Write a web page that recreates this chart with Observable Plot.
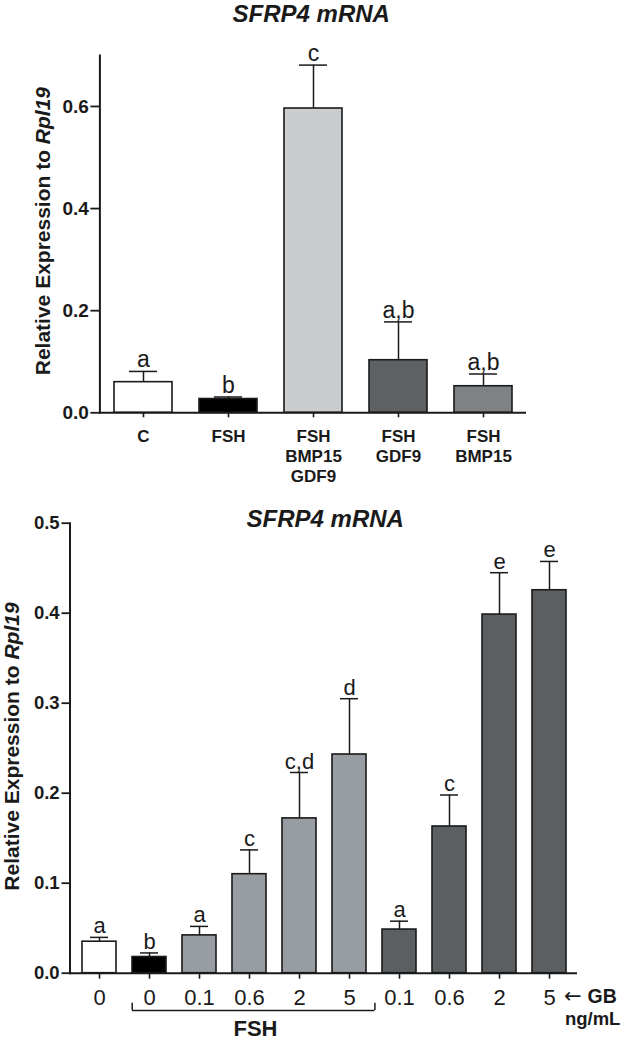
<!DOCTYPE html>
<html><head><meta charset="utf-8">
<script src="https://cdn.jsdelivr.net/npm/d3@7"></script>
<script src="https://cdn.jsdelivr.net/npm/@observablehq/plot@0.6"></script>
<style>
html,body{margin:0;padding:0;background:#fff;}
#wrap{width:633px;height:1039px;position:relative;overflow:hidden;background:#fff;}
#wrap svg{display:block;}
</style></head><body><div id="wrap"></div>
<script>
// ---------- Top panel data ----------
const topCategories = ["C", "FSH", "FSH\nBMP15\nGDF9", "FSH\nGDF9", "FSH\nBMP15"];
const topMeans = [0.060, 0.027, 0.596, 0.103, 0.052];
const topSEM = [0.021, 0.004, 0.085, 0.075, 0.024];
const topLetters = ["a", "b", "c", "a,b", "a,b"];
const topColours = ["#ffffff", "#000000", "#c9cdd0", "#5d6164", "#7e8285"];
const topTicks = [0, 0.2, 0.4, 0.6];

// ---------- Bottom panel data ----------
const gbDoses = ["0", "0", "0.1", "0.6", "2", "5", "0.1", "0.6", "2", "5"];
const bottomGroups = ["Control", "FSH", "FSH + GB", "FSH + GB", "FSH + GB", "FSH + GB", "GB", "GB", "GB", "GB"];
const bottomMeans = [0.035, 0.018, 0.042, 0.110, 0.172, 0.243, 0.0485, 0.163, 0.3985, 0.4255];
const bottomSEM = [0.0048, 0.0045, 0.010, 0.027, 0.051, 0.062, 0.0093, 0.035, 0.0465, 0.032];
const bottomLetters = ["a", "b", "a", "c", "c,d", "d", "a", "c", "e", "e"];
const groupNames = ["Control", "FSH", "FSH + GB", "GB"];
const groupColours = ["#ffffff", "#000000", "#989da3", "#5b5f62"];
const bottomTicks = [0, 0.1, 0.2, 0.3, 0.4, 0.5];

const titleText = "SFRP4 mRNA";
const yLabelText = "Relative Expression to Rpl19";

const FONT = '"Liberation Sans", Arial, Helvetica, sans-serif';
const INK = "#1a1a1a";

const topData = topCategories.map((label, i) => ({
  label, mean: topMeans[i], upper: topMeans[i] + topSEM[i], letter: topLetters[i]
}));
const bottomIds = bottomGroups.map((g, i) => g + " " + gbDoses[i]);
const doseById = new Map(bottomIds.map((id, i) => [id, gbDoses[i]]));
const bottomData = bottomIds.map((id, i) => ({
  id, group: bottomGroups[i], mean: bottomMeans[i], upper: bottomMeans[i] + bottomSEM[i], letter: bottomLetters[i]
}));
const fshIds = bottomIds.filter((id, i) => bottomGroups[i] === "FSH" || bottomGroups[i] === "FSH + GB");
const bracket = [{from: fshIds[0], to: fshIds[fshIds.length - 1], mid: fshIds[Math.floor(fshIds.length / 2)], label: "FSH"}];
const lastId = bottomIds[bottomIds.length - 1];
const arrowNote = [{id: lastId, text: "\u2190"}];
const unitNote = [{id: lastId, text: "GB"}];
const unitNote2 = [{id: lastId, text: "ng/mL"}];

const topPlot = Plot.plot({
  width: 633, height: 490,
  marginLeft: 99.4, marginRight: 107, marginTop: 54.9, marginBottom: 77.7,
  style: {fontFamily: FONT, background: "#fff", overflow: "visible", color: INK},
  x: {domain: topCategories, paddingInner: 0.32, paddingOuter: 0.16, axis: null},
  y: {domain: [0, 0.7], axis: null},
  color: {domain: topCategories, range: topColours},
  marks: [
    Plot.barY(topData, {x: "label", y: "mean", fill: "label", stroke: INK, strokeWidth: 1.6}),
    Plot.ruleX(topData, {x: "label", y1: "mean", y2: "upper", stroke: INK, strokeWidth: 1.5}),
    Plot.tickY(topData, {x: "label", y: "upper", stroke: INK, strokeWidth: 1.5, insetLeft: 15, insetRight: 15}),
    Plot.text(topData, {x: "label", y: "upper", text: "letter", lineAnchor: "bottom", dy: -4, fontSize: 23, fill: INK}),
    Plot.axisY({ticks: topTicks, tickFormat: d3.format(".1f"), tickSize: 9, tickPadding: 2, fontSize: 19, fontWeight: "bold", label: null, color: INK, strokeWidth: 1.8}),
    Plot.axisX({tickSize: 5, tickPadding: 9.4, fontSize: 17, fontWeight: "bold", lineHeight: 1.2, label: null, color: INK, strokeWidth: 1.6}),
    Plot.ruleY([0], {stroke: INK, strokeWidth: 2}),
    Plot.frame({anchor: "left", stroke: INK, strokeWidth: 2}),
    Plot.text([yLabelText], {text: d => d, frameAnchor: "left", textAnchor: "middle", rotate: -90, dx: -56.8, dy: -3, lineAnchor: "middle", fontSize: 21, fontWeight: "bold", fill: INK}),
    Plot.text([titleText], {text: d => d, frameAnchor: "top", textAnchor: "middle", lineAnchor: "bottom", dy: -33.2, dx: -2, fontSize: 24, fontWeight: "bold", fontStyle: "italic", fill: INK})
  ]
});

const bottomPlot = Plot.plot({
  width: 633, height: 549,
  marginLeft: 69.5, marginRight: 56, marginTop: 32.7, marginBottom: 66.3,
  style: {fontFamily: FONT, background: "#fff", overflow: "visible", color: INK},
  x: {domain: bottomIds, paddingInner: 0.33, paddingOuter: 0.165, axis: null},
  y: {domain: [0, 0.5], axis: null},
  color: {domain: groupNames, range: groupColours},
  marks: [
    Plot.barY(bottomData, {x: "id", y: "mean", fill: "group", stroke: INK, strokeWidth: 1.6}),
    Plot.ruleX(bottomData, {x: "id", y1: "mean", y2: "upper", stroke: INK, strokeWidth: 1.5}),
    Plot.tickY(bottomData, {x: "id", y: "upper", stroke: INK, strokeWidth: 1.5, insetLeft: 8, insetRight: 8}),
    Plot.text(bottomData, {x: "id", y: "upper", text: "letter", lineAnchor: "bottom", dy: -4, fontSize: 22, fill: INK}),
    Plot.axisY({ticks: bottomTicks, tickFormat: d3.format(".1f"), tickSize: 8, tickPadding: 2.4, fontSize: 18.5, fontWeight: "bold", label: null, color: INK, strokeWidth: 1.8}),
    Plot.axisX({tickSize: 6, tickPadding: 10.6, fontSize: 22, tickFormat: id => doseById.get(id), label: null, color: INK, strokeWidth: 1.6}),
    Plot.ruleY([0], {stroke: INK, strokeWidth: 2}),
    Plot.frame({anchor: "left", stroke: INK, strokeWidth: 2}),
    // FSH bracket
    Plot.ruleY(bracket, {x1: "from", x2: "to", y: 0, dy: 37.3, insetRight: -8.5, stroke: INK, strokeWidth: 1.5}),
    Plot.ruleX(bracket, {x: "from", y1: 0, y2: 0, insetTop: 30, insetBottom: -37.3, dx: -17.3, stroke: INK, strokeWidth: 1.5}),
    Plot.ruleX(bracket, {x: "to", y1: 0, y2: 0, insetTop: 30, insetBottom: -37.3, dx: 25.4, stroke: INK, strokeWidth: 1.5}),
    Plot.text(bracket, {x: "mid", y: 0, text: "label", lineAnchor: "bottom", dy: 62.3, dx: 6, fontSize: 22, fontWeight: "bold", fill: INK}),
    Plot.text(arrowNote, {x: "id", y: 0, text: "text", textAnchor: "start", lineAnchor: "middle", dx: 14.5, dy: 23.5, fontSize: 21, fontFamily: "DejaVu Sans", fill: INK}),
    Plot.text(unitNote, {x: "id", y: 0, text: "text", textAnchor: "start", lineAnchor: "bottom", dx: 38, dy: 29.8, fontSize: 19.5, fontWeight: "bold", fill: INK}),
    Plot.text(unitNote2, {x: "id", y: 0, text: "text", textAnchor: "start", lineAnchor: "bottom", dx: 15.4, dy: 52, fontSize: 18.5, fontWeight: "bold", fill: INK}),
    Plot.text([yLabelText], {text: d => d, frameAnchor: "left", textAnchor: "middle", rotate: -90, dx: -57.5, dy: -1.7, lineAnchor: "middle", fontSize: 21, fontWeight: "bold", fill: INK}),
    Plot.text([titleText], {text: d => d, frameAnchor: "top", textAnchor: "middle", lineAnchor: "bottom", dy: 3.3, dx: 1.5, fontSize: 24, fontWeight: "bold", fontStyle: "italic", fill: INK})
  ]
});

// italicise the gene name in the y-axis labels
function italicGene(svg) {
  svg.querySelectorAll("text").forEach(t => {
    if (t.textContent === yLabelText) {
      const target = t.querySelector("tspan") || t;
      const parts = yLabelText.split("Rpl19");
      target.textContent = "";
      const ns = "http://www.w3.org/2000/svg";
      const a = document.createElementNS(ns, "tspan");
      a.textContent = parts[0];
      const b = document.createElementNS(ns, "tspan");
      b.textContent = "Rpl19";
      b.setAttribute("font-style", "italic");
      target.appendChild(a);
      target.appendChild(b);
    }
  });
}
italicGene(topPlot);
italicGene(bottomPlot);

const wrap = document.getElementById("wrap");
wrap.appendChild(topPlot);
wrap.appendChild(bottomPlot);
</script>
</body></html>
